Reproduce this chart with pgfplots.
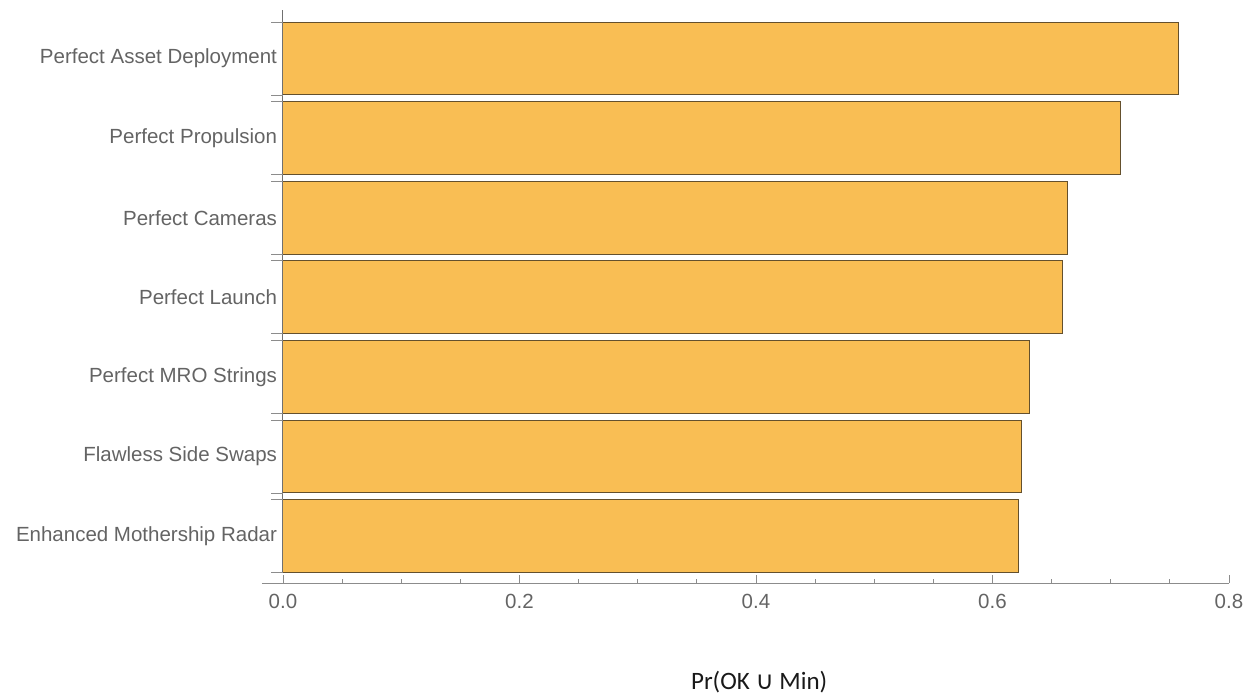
\documentclass[border=0pt]{standalone}
\usepackage{fontspec}
\setmainfont{Liberation Sans}
\newfontfamily\carlito{Carlito}
\newfontfamily\dejavu{DejaVu Sans}
\usepackage{pgfplots}
\pgfplotsset{compat=1.18}
\definecolor{barfill}{RGB}{249,190,84}
\definecolor{baredge}{RGB}{100,80,45}
\definecolor{axisgray}{RGB}{140,140,140}
\definecolor{labelgray}{RGB}{100,100,100}
\begin{document}
\begin{tikzpicture}
\useasboundingbox (-283bp,-111bp) rectangle (962bp,583bp);
\begin{axis}[
  at={(0,0)}, anchor=south west,
  scale only axis,
  width=946bp, height=573bp,
  xmin=0, xmax=0.8,
  ymin=-0.59, ymax=6.61,
  clip=false,
  axis line style={draw=none},
  xbar, bar width=0.915,
  xtick={0,0.2,0.4,0.6,0.8},
  minor x tick num=3,
  xtick pos=bottom,
  tick align=inside,
  major tick length=8bp,
  minor tick length=4.5bp,
  x tick style={draw=axisgray, line width=0.8bp},
  xticklabel style={font=\fontsize{20.5bp}{24bp}\selectfont, text=labelgray, yshift=-8bp},
  xticklabel={\pgfmathprintnumber[fixed,fixed zerofill,precision=1]{\tick}},
  /pgf/number format/assume math mode=true,
  ytick={0,1,2,3,4,5,6},
  yticklabels={Enhanced Mothership Radar,Flawless Side Swaps,Perfect MRO Strings,Perfect Launch,Perfect Cameras,Perfect Propulsion,Perfect Asset Deployment},
  ytick pos=left,
  y tick style={draw=none},
  yticklabel style={font=\fontsize{20.5bp}{24bp}\selectfont, text=labelgray, xshift=-2.5bp},
]
\addplot[fill=barfill, draw=baredge, line width=1bp] coordinates {
  (0.622,0) (0.6246,1) (0.631,2) (0.6596,3) (0.6633,4) (0.708,5) (0.7575,6)
};
% axis lines
\draw[axisgray, line width=0.9bp] (axis cs:-0.0178,-0.59) -- (axis cs:0.8,-0.59);
\draw[axisgray!80!black, line width=1bp] (axis cs:0,-0.458) -- (axis cs:0,6.61);
\pgfplotsinvokeforeach{-0.458,0.458,0.542,1.458,1.542,2.458,2.542,3.458,3.542,4.458,4.542,5.458,5.542,6.458}{
  \draw[axisgray, line width=0.8bp] (axis cs:0,#1) -- ++(-12bp,0bp);
}
\node[font=\carlito\fontsize{25bp}{29bp}\selectfont, text=black!90] at (axis cs:0.4027,-1.84) {Pr(OK {\dejavu ∪} Min)};
\end{axis}
\end{tikzpicture}
\end{document}
